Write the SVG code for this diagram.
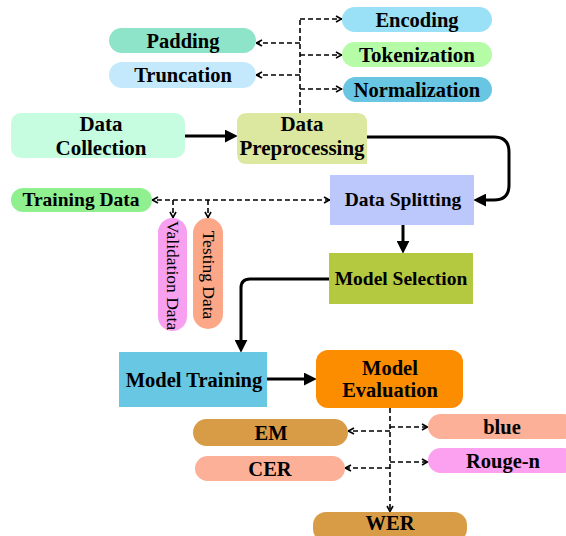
<svg xmlns="http://www.w3.org/2000/svg" width="566" height="536" viewBox="0 0 566 536">
<style>
text{font-family:"Liberation Serif","Times New Roman",serif;font-weight:bold;font-size:20.5px;fill:#000;text-anchor:middle}
text.s{font-size:19.5px}
text.l{font-size:21px}
text.v{font-weight:normal;font-size:17.5px}
.d{fill:none;stroke:#000;stroke-width:1.6;stroke-dasharray:5 3}
.t{fill:none;stroke:#000;stroke-width:3}
</style>
<defs>
<marker id="oa" viewBox="0 0 8 8" refX="7.5" refY="4" markerWidth="8" markerHeight="8" orient="auto-start-reverse" markerUnits="userSpaceOnUse"><path d="M1.5,1 L7,4 L1.5,7" fill="none" stroke="#000" stroke-width="1.6"/></marker>
<marker id="fa" viewBox="0 0 12 12" refX="3" refY="6" markerWidth="13" markerHeight="13" orient="auto" markerUnits="userSpaceOnUse"><path d="M0,0 L12,6 L0,12 z" fill="#000"/></marker>
</defs>
<rect width="566" height="536" fill="#fff"/>
<g id="connectors">
<path class="d" d="M300,113 V19"/>
<path class="d" d="M300,19 H342" marker-end="url(#oa)"/>
<path class="d" d="M300,43 H256" marker-end="url(#oa)"/>
<path class="d" d="M300,55 H342" marker-end="url(#oa)"/>
<path class="d" d="M300,75 H256" marker-end="url(#oa)"/>
<path class="d" d="M300,89 H342" marker-end="url(#oa)"/>
<path class="d" d="M330,200 H152" marker-start="url(#oa)" marker-end="url(#oa)"/>
<path class="d" d="M173,200 V218" marker-end="url(#oa)"/>
<path class="d" d="M208,200 V218" marker-end="url(#oa)"/>
<path class="d" d="M390,408 V512" marker-end="url(#oa)"/>
<path class="d" d="M390,431 H348" marker-end="url(#oa)"/>
<path class="d" d="M390,427 H428" marker-end="url(#oa)"/>
<path class="d" d="M390,468 H345" marker-end="url(#oa)"/>
<path class="d" d="M390,462 H428" marker-end="url(#oa)"/>
<path class="t" d="M185,136 H228" marker-end="url(#fa)"/>
<path class="t" d="M367,137 H494 Q509,137 509,152 V185 Q509,200 494,200 H483" marker-end="url(#fa)"/>
<path class="t" d="M403,225 V244" marker-end="url(#fa)"/>
<path class="t" d="M329,279 H250 Q241,279 241,288 V343" marker-end="url(#fa)"/>
<path class="t" d="M267,379 H307" marker-end="url(#fa)"/>
</g>
<g id="encoding"><rect x="342" y="7" width="150" height="25" rx="12.5" fill="#9ae0f6"/><text x="417" y="26.5">Encoding</text></g>
<g id="padding"><rect x="109" y="28" width="147" height="25" rx="12.5" fill="#8ee4c8"/><text x="183" y="47.5">Padding</text></g>
<g id="tokenization"><rect x="342" y="42" width="150" height="25" rx="12.5" fill="#b6fca6"/><text class="l" x="417" y="61.5">Tokenization</text></g>
<g id="truncation"><rect x="109" y="62" width="147" height="26" rx="13" fill="#c4e8fc"/><text x="183" y="81.5">Truncation</text></g>
<g id="normalization"><rect x="343" y="77" width="149" height="25" rx="12.5" fill="#68c6e2"/><text x="417" y="96.5">Normalization</text></g>
<g id="data-collection"><rect x="11" y="113" width="174" height="45" rx="10" fill="#c6fce0"/><text class="l" x="101" y="130.5">Data</text><text class="l" x="101" y="154.5">Collection</text></g>
<g id="data-preprocessing"><path d="M247,113 H357 Q367,113 367,123 V164 H247 Q237,164 237,154 V123 Q237,113 247,113 Z" fill="#dce8a0"/><text class="l" x="302" y="130.5">Data</text><text class="l" x="302" y="154.5">Preprocessing</text></g>
<g id="data-splitting"><rect x="330" y="175" width="144" height="50" fill="#bcc8fc"/><text class="s" x="403" y="206">Data Splitting</text></g>
<g id="training-data"><rect x="11" y="188" width="141" height="24" rx="12" fill="#90f090"/><text class="s" x="81" y="206">Training Data</text></g>
<g id="validation-data"><rect x="158" y="218" width="29" height="113" rx="14.5" fill="#f8a0f0"/><text class="v" transform="translate(172.5,275.5) rotate(90)" x="0" y="5.5">Validation Data</text></g>
<g id="testing-data"><rect x="193" y="218" width="30" height="111" rx="15" fill="#fca888"/><text class="v" transform="translate(208,275) rotate(90)" x="0" y="5.5">Testing Data</text></g>
<g id="model-selection"><rect x="329" y="253" width="144" height="51" fill="#b4c840"/><text class="s" x="401" y="285">Model Selection</text></g>
<g id="model-training"><rect x="119" y="352" width="148" height="55" fill="#68c8e4"/><text x="194" y="386.5">Model Training</text></g>
<g id="model-evaluation"><rect x="316" y="350" width="147" height="58" rx="12" fill="#fc8c00"/><text x="390" y="374.5">Model</text><text x="390" y="396.5">Evaluation</text></g>
<g id="em"><rect x="193" y="419" width="155" height="27" rx="13.5" fill="#d89c46"/><text x="271" y="439.5">EM</text></g>
<g id="blue"><rect x="428" y="414" width="148" height="25" rx="12.5" fill="#fcb098"/><text x="502" y="433.5">blue</text></g>
<g id="cer"><rect x="195" y="456" width="150" height="25" rx="12.5" fill="#fcb098"/><text x="270" y="475.5">CER</text></g>
<g id="rouge-n"><rect x="428" y="448" width="148" height="25" rx="12.5" fill="#fca0f0"/><text x="503" y="467.5">Rouge-n</text></g>
<g id="wer"><rect x="313" y="512" width="154" height="30" rx="13" fill="#d89c46"/><text x="390" y="530">WER</text></g>
</svg>
